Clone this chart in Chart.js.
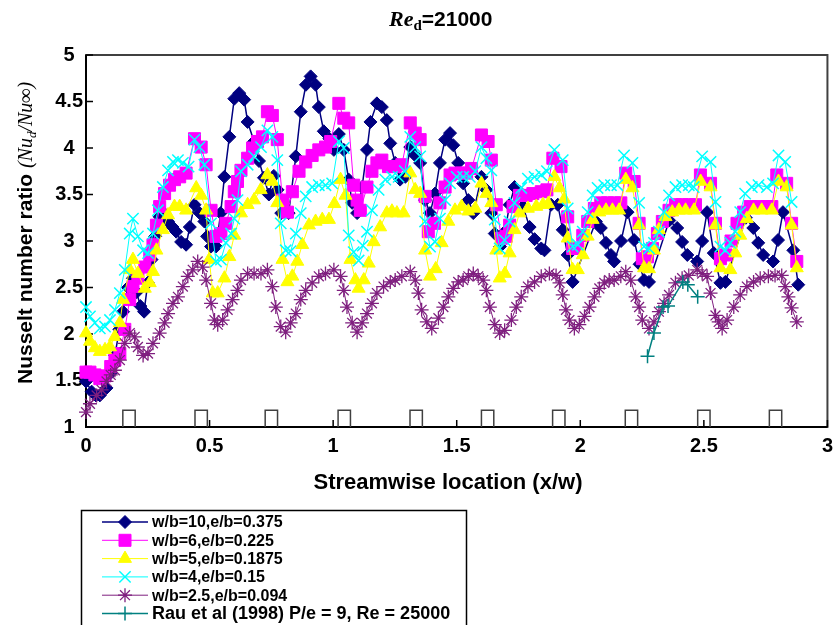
<!DOCTYPE html>
<html>
<head>
<meta charset="utf-8">
<title>Nusselt number ratio, Re_d = 21000</title>
<script src="https://cdn.jsdelivr.net/npm/chart.js@4.4.1/dist/chart.umd.min.js"></script>
<style>
    html, body { margin: 0; padding: 0; background: #ffffff; }
    #wrap { position: relative; width: 840px; height: 625px; }
</style>
</head>
<body>
<div id="wrap"><canvas id="nusseltChart"></canvas></div>
<script>
// ---------------- DATA ----------------

// x/w, Nu_d/Nu_inf
const wb10 = [
    [0, 1.49], [0.023, 1.38], [0.04, 1.34], [0.056, 1.34], [0.083, 1.42], [0.10, 1.58], [0.117, 1.77],
    [0.135, 2.05], [0.15, 2.24], [0.17, 2.50], [0.19, 2.60], [0.205, 2.45], [0.22, 2.30], [0.235, 2.24],
    [0.25, 2.55], [0.265, 2.80], [0.28, 3.05], [0.298, 3.26], [0.315, 3.30], [0.332, 3.21], [0.35, 3.15],
    [0.365, 3.10], [0.385, 2.99], [0.405, 2.96], [0.42, 3.15], [0.439, 3.39], [0.46, 3.30], [0.479, 3.21],
    [0.49, 3.05], [0.506, 2.94], [0.526, 2.94], [0.545, 3.30], [0.56, 3.69], [0.58, 4.12], [0.60, 4.53],
    [0.62, 4.59], [0.64, 4.52], [0.654, 4.28], [0.68, 4.07], [0.70, 3.86], [0.72, 3.68], [0.74, 3.50],
    [0.76, 3.70], [0.775, 3.55], [0.79, 3.30], [0.82, 3.30], [0.849, 3.91], [0.869, 4.39], [0.89, 4.68],
    [0.909, 4.77], [0.929, 4.68], [0.942, 4.44], [0.962, 4.18], [0.985, 4.10], [1.003, 3.98], [1.023, 4.15],
    [1.043, 3.98], [1.063, 3.66], [1.077, 3.41], [1.097, 3.30], [1.117, 3.58], [1.137, 3.98], [1.151, 4.28],
    [1.177, 4.48], [1.197, 4.44], [1.217, 4.30], [1.231, 4.05], [1.251, 3.84], [1.271, 3.66], [1.292, 3.69],
    [1.312, 4.01], [1.332, 3.92], [1.352, 3.84], [1.372, 3.44], [1.392, 3.30], [1.412, 3.51], [1.432, 3.84],
    [1.453, 4.09], [1.473, 4.16], [1.486, 4.03], [1.506, 3.84], [1.526, 3.62], [1.547, 3.44], [1.567, 3.30],
    [1.60, 3.69], [1.62, 3.55], [1.64, 3.30], [1.654, 3.08], [1.675, 2.94], [1.695, 3.10], [1.714, 3.39],
    [1.734, 3.58], [1.754, 3.53], [1.768, 3.37], [1.795, 3.15], [1.815, 3.02], [1.842, 2.92], [1.855, 2.90],
    [1.882, 3.39], [1.909, 3.39], [1.929, 3.12], [1.949, 2.85], [1.969, 2.56], [2.063, 3.21], [2.083, 3.14],
    [2.104, 2.98], [2.124, 2.85], [2.137, 2.78], [2.165, 3.00], [2.191, 3.31], [2.218, 3.01], [2.24, 2.75],
    [2.258, 2.58], [2.278, 2.56], [2.36, 3.22], [2.392, 3.14], [2.412, 2.99], [2.433, 2.85], [2.473, 2.78],
    [2.493, 3.00], [2.513, 3.31], [2.54, 2.87], [2.567, 2.55], [2.587, 2.56], [2.67, 3.25], [2.70, 3.14],
    [2.72, 2.98], [2.74, 2.85], [2.78, 2.78], [2.80, 3.01], [2.82, 3.31], [2.862, 2.90], [2.882, 2.53]
];

const wb6 = [
    [0, 1.59], [0.016, 1.59], [0.036, 1.56], [0.056, 1.52], [0.077, 1.55], [0.10, 1.65], [0.117, 1.72],
    [0.137, 1.79], [0.157, 2.05], [0.177, 2.37], [0.19, 2.51], [0.21, 2.60], [0.238, 2.72], [0.258, 2.85],
    [0.271, 2.96], [0.285, 3.17], [0.298, 3.37], [0.318, 3.51], [0.338, 3.60], [0.358, 3.66], [0.379, 3.69],
    [0.405, 3.73], [0.439, 4.10], [0.466, 4.01], [0.486, 3.82], [0.506, 3.33], [0.526, 3.05], [0.546, 3.08],
    [0.566, 3.19], [0.587, 3.37], [0.60, 3.53], [0.613, 3.64], [0.627, 3.76], [0.654, 3.89], [0.674, 4.00],
    [0.694, 4.07], [0.714, 4.12], [0.734, 4.39], [0.754, 4.35], [0.774, 4.09], [0.795, 3.44], [0.815, 3.31],
    [0.835, 3.53], [0.862, 3.75], [0.889, 3.85], [0.915, 3.92], [0.942, 3.98], [0.969, 4.01], [0.99, 4.07],
    [1.023, 4.48], [1.043, 4.32], [1.063, 4.27], [1.083, 3.60], [1.097, 3.44], [1.11, 3.33], [1.137, 3.58],
    [1.157, 3.75], [1.177, 3.84], [1.197, 3.87], [1.224, 3.80], [1.251, 3.80], [1.278, 3.82], [1.312, 4.27],
    [1.332, 4.16], [1.352, 4.09], [1.372, 3.48], [1.385, 3.10], [1.41, 3.19], [1.432, 3.41], [1.453, 3.58],
    [1.473, 3.71], [1.493, 3.73], [1.52, 3.73], [1.54, 3.73], [1.56, 3.78], [1.60, 4.14], [1.627, 4.07],
    [1.64, 3.87], [1.66, 3.39], [1.681, 3.03], [1.70, 3.05], [1.714, 3.17], [1.728, 3.37], [1.754, 3.49],
    [1.781, 3.49], [1.808, 3.51], [1.842, 3.53], [1.865, 3.55], [1.889, 3.89], [1.922, 3.80], [1.949, 3.26],
    [1.969, 2.92], [1.99, 2.92], [2.01, 3.06], [2.03, 3.21], [2.057, 3.35], [2.083, 3.41], [2.11, 3.41],
    [2.137, 3.41], [2.164, 3.41], [2.184, 3.73], [2.218, 3.64], [2.238, 3.19], [2.251, 2.81], [2.272, 2.83],
    [2.292, 2.92], [2.312, 3.08], [2.332, 3.21], [2.359, 3.33], [2.385, 3.39], [2.412, 3.39], [2.439, 3.39],
    [2.466, 3.39], [2.486, 3.71], [2.527, 3.62], [2.547, 3.19], [2.567, 2.81], [2.59, 2.85], [2.61, 3.00],
    [2.634, 3.19], [2.661, 3.31], [2.687, 3.37], [2.721, 3.37], [2.755, 3.37], [2.775, 3.37], [2.795, 3.71],
    [2.835, 3.62], [2.855, 3.19], [2.876, 2.78]
];

const wb5 = [
    [0, 2.01], [0.016, 1.92], [0.036, 1.85], [0.056, 1.81], [0.077, 1.83], [0.097, 1.86], [0.117, 1.97],
    [0.137, 2.12], [0.15, 2.37], [0.177, 2.69], [0.19, 2.80], [0.21, 2.65], [0.238, 2.49], [0.258, 2.55],
    [0.271, 2.67], [0.285, 2.90], [0.311, 3.12], [0.332, 3.28], [0.358, 3.37], [0.379, 3.37], [0.405, 3.33],
    [0.446, 3.57], [0.466, 3.49], [0.486, 3.33], [0.499, 2.80], [0.513, 2.44], [0.533, 2.44], [0.56, 2.60],
    [0.58, 2.83], [0.60, 3.06], [0.627, 3.30], [0.654, 3.39], [0.68, 3.44], [0.707, 3.55], [0.734, 3.71],
    [0.754, 3.64], [0.774, 3.41], [0.795, 2.80], [0.815, 2.56], [0.835, 2.62], [0.855, 2.78], [0.875, 2.96],
    [0.902, 3.17], [0.929, 3.21], [0.956, 3.23], [0.983, 3.23], [1.005, 3.40], [1.03, 3.66], [1.05, 3.49],
    [1.07, 2.80], [1.09, 2.58], [1.103, 2.49], [1.124, 2.58], [1.144, 2.76], [1.164, 2.99], [1.19, 3.15],
    [1.217, 3.30], [1.238, 3.32], [1.258, 3.30], [1.285, 3.30], [1.312, 3.73], [1.332, 3.55], [1.352, 3.51],
    [1.372, 2.90], [1.392, 2.62], [1.415, 2.70], [1.439, 2.98], [1.466, 3.21], [1.493, 3.33], [1.52, 3.37],
    [1.547, 3.32], [1.575, 3.35], [1.60, 3.62], [1.62, 3.51], [1.64, 3.41], [1.66, 2.90], [1.674, 2.60],
    [1.695, 2.65], [1.714, 2.87], [1.734, 3.12], [1.754, 3.30], [1.788, 3.35], [1.822, 3.37], [1.849, 3.39],
    [1.87, 3.40], [1.895, 3.69], [1.916, 3.57], [1.935, 3.45], [1.949, 3.03], [1.969, 2.69], [1.99, 2.69],
    [2.01, 2.85], [2.03, 3.05], [2.05, 3.23], [2.077, 3.31], [2.104, 3.33], [2.13, 3.33], [2.157, 3.33],
    [2.184, 3.66], [2.211, 3.57], [2.238, 3.17], [2.258, 2.71], [2.278, 2.70], [2.298, 2.90], [2.318, 3.12],
    [2.345, 3.26], [2.372, 3.31], [2.399, 3.33], [2.426, 3.33], [2.46, 3.33], [2.487, 3.64], [2.527, 3.58],
    [2.547, 3.17], [2.567, 2.71], [2.607, 2.69], [2.627, 2.87], [2.647, 3.06], [2.674, 3.24], [2.701, 3.33],
    [2.734, 3.33], [2.775, 3.33], [2.802, 3.64], [2.835, 3.58], [2.855, 3.17], [2.876, 2.71]
];

const wb4 = [
    [0, 2.29], [0.016, 2.19], [0.036, 2.12], [0.056, 2.06], [0.077, 2.08], [0.097, 2.15], [0.117, 2.26],
    [0.137, 2.44], [0.157, 2.69], [0.177, 3.08], [0.19, 3.24], [0.21, 3.05], [0.231, 2.90], [0.251, 2.87],
    [0.271, 3.08], [0.291, 3.33], [0.311, 3.58], [0.332, 3.76], [0.352, 3.85], [0.372, 3.87], [0.392, 3.84],
    [0.415, 3.80], [0.439, 4.09], [0.459, 4.01], [0.479, 3.82], [0.506, 3.19], [0.526, 2.78], [0.546, 2.80],
    [0.566, 2.98], [0.587, 3.08], [0.60, 3.24], [0.613, 3.44], [0.627, 3.75], [0.654, 3.82], [0.68, 3.91],
    [0.708, 4.01], [0.734, 4.19], [0.754, 4.12], [0.774, 3.87], [0.788, 3.19], [0.808, 2.90], [0.828, 2.89],
    [0.849, 3.08], [0.869, 3.30], [0.889, 3.48], [0.915, 3.58], [0.942, 3.60], [0.969, 3.60], [0.996, 3.62],
    [1.023, 4.07], [1.043, 4.00], [1.063, 3.06], [1.083, 2.88], [1.103, 2.79], [1.12, 2.95], [1.137, 3.10],
    [1.157, 3.33], [1.184, 3.55], [1.211, 3.66], [1.238, 3.69], [1.265, 3.69], [1.29, 3.75], [1.312, 4.12],
    [1.332, 4.01], [1.352, 3.91], [1.372, 3.21], [1.392, 2.94], [1.412, 2.99], [1.432, 3.24], [1.453, 3.44],
    [1.473, 3.62], [1.50, 3.69], [1.526, 3.69], [1.553, 3.69], [1.575, 3.75], [1.60, 4.01], [1.62, 3.89],
    [1.64, 3.76], [1.654, 3.23], [1.674, 2.92], [1.694, 3.01], [1.714, 3.21], [1.734, 3.41], [1.761, 3.57],
    [1.788, 3.67], [1.815, 3.69], [1.842, 3.71], [1.865, 3.75], [1.895, 3.98], [1.929, 3.87], [1.949, 3.35],
    [1.969, 2.94], [1.99, 2.96], [2.01, 3.10], [2.03, 3.31], [2.05, 3.49], [2.07, 3.57], [2.097, 3.60],
    [2.124, 3.60], [2.15, 3.60], [2.177, 3.92], [2.211, 3.84], [2.238, 3.41], [2.258, 2.94], [2.278, 2.92],
    [2.298, 2.98], [2.318, 3.10], [2.339, 3.31], [2.359, 3.49], [2.385, 3.58], [2.412, 3.60], [2.439, 3.60],
    [2.459, 3.58], [2.493, 3.91], [2.527, 3.85], [2.547, 3.42], [2.567, 2.94], [2.587, 2.90], [2.607, 2.98],
    [2.627, 3.10], [2.647, 3.31], [2.667, 3.51], [2.694, 3.58], [2.721, 3.60], [2.755, 3.58], [2.78, 3.62],
    [2.802, 3.92], [2.829, 3.85], [2.855, 3.42]
];

const wb25 = [
    [0, 1.16], [0.016, 1.25], [0.043, 1.34], [0.063, 1.40], [0.083, 1.49], [0.10, 1.56], [0.117, 1.61],
    [0.137, 1.72], [0.157, 1.90], [0.177, 2.01], [0.197, 1.97], [0.21, 1.86], [0.231, 1.77], [0.251, 1.79],
    [0.271, 1.90], [0.298, 2.01], [0.318, 2.12], [0.332, 2.22], [0.352, 2.33], [0.372, 2.40], [0.392, 2.51],
    [0.412, 2.62], [0.432, 2.69], [0.452, 2.78], [0.472, 2.72], [0.486, 2.58], [0.506, 2.33], [0.52, 2.15],
    [0.533, 2.10], [0.553, 2.15], [0.573, 2.26], [0.593, 2.37], [0.613, 2.47], [0.627, 2.58], [0.654, 2.65],
    [0.68, 2.65], [0.708, 2.65], [0.734, 2.69], [0.754, 2.51], [0.768, 2.29], [0.788, 2.08], [0.808, 2.02],
    [0.828, 2.12], [0.849, 2.22], [0.869, 2.37], [0.889, 2.47], [0.915, 2.55], [0.942, 2.62], [0.969, 2.65],
    [1.003, 2.69], [1.03, 2.62], [1.043, 2.47], [1.056, 2.29], [1.077, 2.12], [1.097, 2.02], [1.117, 2.12],
    [1.137, 2.22], [1.157, 2.33], [1.177, 2.44], [1.204, 2.51], [1.231, 2.56], [1.251, 2.58], [1.278, 2.62],
    [1.312, 2.67], [1.332, 2.58], [1.345, 2.44], [1.358, 2.26], [1.379, 2.13], [1.399, 2.06], [1.426, 2.17],
    [1.446, 2.29], [1.466, 2.40], [1.486, 2.49], [1.506, 2.56], [1.526, 2.58], [1.547, 2.62], [1.567, 2.65],
    [1.587, 2.62], [1.607, 2.58], [1.62, 2.47], [1.634, 2.29], [1.654, 2.10], [1.674, 2.01], [1.694, 2.04],
    [1.721, 2.15], [1.741, 2.29], [1.761, 2.40], [1.788, 2.51], [1.815, 2.56], [1.842, 2.62], [1.875, 2.65],
    [1.902, 2.63], [1.916, 2.55], [1.929, 2.42], [1.942, 2.26], [1.956, 2.15], [1.976, 2.06], [1.996, 2.10],
    [2.017, 2.19], [2.037, 2.29], [2.057, 2.40], [2.077, 2.49], [2.097, 2.55], [2.117, 2.58], [2.137, 2.58],
    [2.164, 2.62], [2.184, 2.67], [2.204, 2.58], [2.224, 2.40], [2.238, 2.29], [2.251, 2.15], [2.278, 2.06],
    [2.298, 2.13], [2.318, 2.24], [2.339, 2.33], [2.359, 2.42], [2.385, 2.55], [2.412, 2.60], [2.439, 2.63],
    [2.473, 2.69], [2.493, 2.65], [2.513, 2.62], [2.527, 2.44], [2.547, 2.20], [2.56, 2.13], [2.574, 2.06],
    [2.594, 2.15], [2.621, 2.29], [2.647, 2.42], [2.674, 2.51], [2.701, 2.56], [2.728, 2.60], [2.761, 2.62],
    [2.788, 2.63], [2.815, 2.63], [2.829, 2.51], [2.842, 2.40], [2.855, 2.28], [2.876, 2.13]
];

const rau1998 = [
    [2.272, 1.76], [2.298, 2.01], [2.335, 2.29], [2.355, 2.30], [2.415, 2.56], [2.435, 2.53], [2.475, 2.40]
];

// rib positions along the wall (x/w) and rib outline size
const ribCentres = [0.174, 0.466, 0.75, 1.045, 1.336, 1.625, 1.913, 2.207, 2.50, 2.79];
const ribHalfWidth = 0.025;
const ribTop = 1.18;

const seriesNames = [
    "w/b=10,e/b=0.375",
    "w/b=6,e/b=0.225",
    "w/b=5,e/b=0.1875",
    "w/b=4,e/b=0.15",
    "w/b=2.5,e/b=0.094",
    "Rau et al (1998) P/e = 9, Re = 25000"
];

const yTicks = [1, 1.5, 2, 2.5, 3, 3.5, 4, 4.5, 5];
const xTicks = [0, 0.5, 1, 1.5, 2, 2.5, 3];

// ---------------- HELPERS ----------------

const toPoints = arr => arr.map(p => ({ x: p[0], y: p[1] }));

// outline of each rib: up, across, down, then a gap
const ribPoints = [];
ribCentres.forEach(c => {
    ribPoints.push({ x: c - ribHalfWidth, y: 1 });
    ribPoints.push({ x: c - ribHalfWidth, y: ribTop });
    ribPoints.push({ x: c + ribHalfWidth, y: ribTop });
    ribPoints.push({ x: c + ribHalfWidth, y: 1 });
    ribPoints.push({ x: c + ribHalfWidth, y: null });
});

const SANS = '"Liberation Sans", Arial, sans-serif';
const SERIF = '"Liberation Serif", "Times New Roman", serif';

// ---------------- PLUGINS ----------------

const frameAndTicks = {
    id: "frameAndTicks",
    beforeDatasetsDraw(chart) {
        const { ctx, chartArea: a, scales } = chart;
        ctx.save();

        ctx.strokeStyle = "#404040";
        ctx.lineWidth = 2;
        ctx.strokeRect(a.left, a.top, a.right - a.left, a.bottom - a.top);

        ctx.strokeStyle = "#000000";
        ctx.beginPath();
        ctx.moveTo(a.left, a.top);
        ctx.lineTo(a.left, a.bottom);
        ctx.lineTo(a.right, a.bottom);
        ctx.stroke();

        // tick marks point into the plot
        ctx.lineWidth = 1.5;
        ctx.beginPath();
        yTicks.forEach(v => {
            const py = scales.y.getPixelForValue(v);
            ctx.moveTo(a.left, py);
            ctx.lineTo(a.left + 7, py);
        });
        xTicks.forEach(v => {
            const px = scales.x.getPixelForValue(v);
            ctx.moveTo(px, a.bottom);
            ctx.lineTo(px, a.bottom - 7);
        });
        ctx.stroke();
        ctx.restore();
    }
};

const titles = {
    id: "titles",
    afterDraw(chart) {
        const ctx = chart.ctx;
        ctx.save();
        ctx.fillStyle = "#000000";
        ctx.textBaseline = "alphabetic";
        ctx.textAlign = "left";

        // chart title: Re_d=21000
        let x = 389;
        ctx.font = "italic bold 22px " + SERIF;
        ctx.fillText("Re", x, 26);
        x += ctx.measureText("Re").width;
        ctx.font = "bold 15px " + SERIF;
        ctx.fillText("d", x, 30);
        x += ctx.measureText("d").width;
        ctx.font = "bold 21px " + SANS;
        ctx.fillText("=21000", x, 26);

        // x axis title
        ctx.font = "bold 22px " + SANS;
        ctx.textAlign = "center";
        ctx.fillText("Streamwise location (x/w)", 448, 489);

        // y axis title, rotated
        ctx.translate(32, 384);
        ctx.rotate(-Math.PI / 2);
        ctx.textAlign = "left";
        x = 0;
        ctx.font = "bold 21px " + SANS;
        ctx.fillText("Nusselt number ratio ", x, 0);
        x += ctx.measureText("Nusselt number ratio ").width;
        ctx.font = "italic 20px " + SERIF;
        ctx.fillText("(Nu", x, 0);
        x += ctx.measureText("(Nu").width;
        ctx.font = "italic 13px " + SERIF;
        ctx.fillText("d", x, 4);
        x += ctx.measureText("d").width;
        ctx.font = "italic 20px " + SERIF;
        ctx.fillText("/Nu\u221E)", x, 0);
        ctx.restore();
    }
};

const boxLegend = {
    id: "boxLegend",
    afterDraw(chart) {
        const ctx = chart.ctx;
        ctx.save();
        ctx.strokeStyle = "#000000";
        ctx.lineWidth = 1.5;
        ctx.strokeRect(81.5, 510.5, 385, 130);

        let row = 0;
        chart.data.datasets.forEach(ds => {
            if (!ds.legendText) return;
            const y = 522 + row * 18.3;

            ctx.strokeStyle = ds.borderColor;
            ctx.lineWidth = ds.borderWidth;
            ctx.beginPath();
            ctx.moveTo(102, y);
            ctx.lineTo(148, y);
            ctx.stroke();

            ctx.fillStyle = ds.pointBackgroundColor;
            ctx.strokeStyle = ds.pointBorderColor;
            ctx.lineWidth = ds.pointBorderWidth;
            Chart.helpers.drawPoint(ctx, {
                pointStyle: ds.pointStyle,
                radius: ds.pointRadius,
                borderWidth: ds.pointBorderWidth,
                rotation: 0
            }, 125, y);

            ctx.fillStyle = "#000000";
            ctx.textBaseline = "middle";
            ctx.textAlign = "left";
            ctx.font = (row === 5 ? "bold 18px " : "bold 16px ") + SANS;
            ctx.fillText(ds.legendText, 152, y + 1);
            row++;
        });
        ctx.restore();
    }
};

// ---------------- CHART ----------------

function series(name, data, colour, lineWidth, style, radius, fill, markerWidth, order) {
    return {
        label: name,
        legendText: name,
        data: toPoints(data),
        showLine: true,
        borderColor: colour,
        borderWidth: lineWidth,
        pointStyle: style,
        pointRadius: radius,
        pointBackgroundColor: fill,
        pointBorderColor: colour,
        pointBorderWidth: markerWidth,
        clip: false,
        order: order
    };
}

Chart.defaults.font.family = SANS;
Chart.defaults.color = "#000000";

const chartCanvas = document.getElementById("nusseltChart");

new Chart(chartCanvas, {
    type: "scatter",
    data: {
        datasets: [
            {
                label: "ribs",
                data: ribPoints,
                showLine: true,
                spanGaps: false,
                borderColor: "#404040",
                borderWidth: 1.5,
                pointRadius: 0,
                clip: false,
                order: 7
            },
            series(seriesNames[0], wb10, "#000080", 1.5, "rectRot", 6.5, "#000080", 1, 6),
            series(seriesNames[1], wb6, "#FF00FF", 1, "rect", 8.5, "#FF00FF", 1, 5),
            series(seriesNames[2], wb5, "#FFFF00", 1, "triangle", 7.5, "#FFFF00", 1, 4),
            series(seriesNames[3], wb4, "#00FFFF", 1, "crossRot", 8, "#00FFFF", 1.5, 3),
            series(seriesNames[4], wb25, "#7F1F7F", 1, "star", 7, "#7F1F7F", 1.3, 2),
            series(seriesNames[5], rau1998, "#008080", 1.5, "cross", 7, "#008080", 1.5, 1)
        ]
    },
    options: {
        responsive: true,
        maintainAspectRatio: false,
        animation: false,
        events: [],
        layout: {
            padding: { left: 0, top: 55, right: 6, bottom: 0 }
        },
        plugins: {
            legend: { display: false },
            tooltip: { enabled: false },
            title: { display: false }
        },
        scales: {
            x: {
                type: "linear",
                min: 0,
                max: 3,
                grid: { display: false, drawTicks: false },
                border: { display: false },
                afterFit(scale) { scale.height = 198; },
                afterBuildTicks(scale) { scale.ticks = xTicks.map(v => ({ value: v })); },
                ticks: {
                    padding: 7,
                    font: { size: 20, weight: "bold" },
                    maxRotation: 0,
                    callback: v => String(v)
                }
            },
            y: {
                type: "linear",
                min: 1,
                max: 5,
                grid: { display: false, drawTicks: false },
                border: { display: false },
                afterFit(scale) { scale.width = 86; },
                afterBuildTicks(scale) { scale.ticks = yTicks.map(v => ({ value: v })); },
                ticks: {
                    padding: 3,
                    crossAlign: "center",
                    font: { size: 20, weight: "bold" },
                    callback: v => String(v)
                }
            }
        }
    },
    plugins: [frameAndTicks, titles, boxLegend]
});
</script>
</body>
</html>
